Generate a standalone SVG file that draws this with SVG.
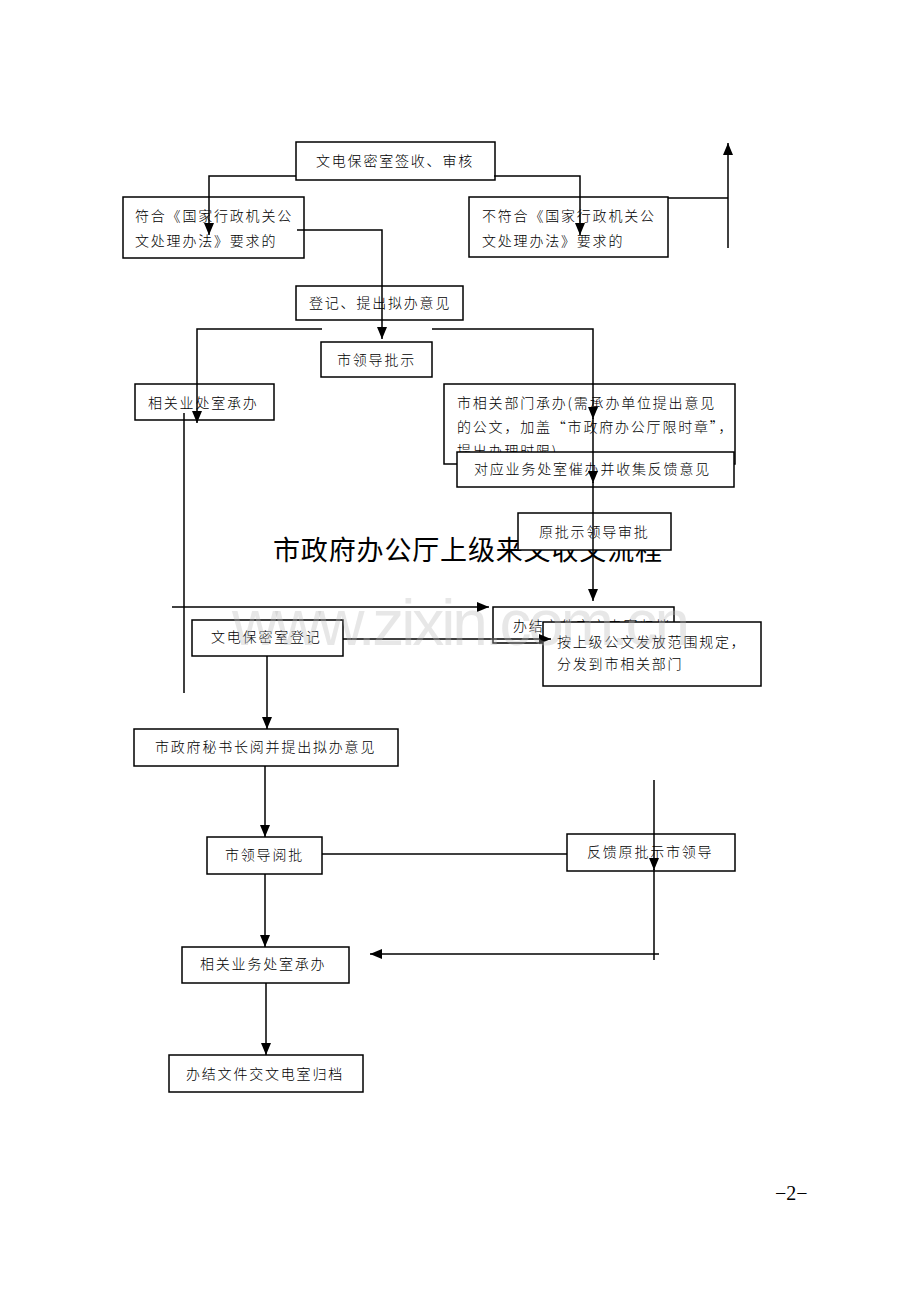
<svg xmlns="http://www.w3.org/2000/svg" width="920" height="1302" viewBox="0 0 920 1302">
<defs>
<style>
.b{fill:#fff;stroke:#000;stroke-width:1.5}
.t{font-family:"Noto Sans CJK SC","Noto Sans",sans-serif;font-size:14px;letter-spacing:1.8px;fill:#000;font-weight:300}
.c{fill:none;stroke:#000;stroke-width:1.5}
</style>
<marker id="a" markerUnits="userSpaceOnUse" markerWidth="12" markerHeight="12" viewBox="0 0 12 12" refX="12" refY="6" orient="auto"><path d="M0,1 L12,6 L0,11 z" fill="#000"/></marker>
</defs>
<rect width="920" height="1302" fill="#fff"/>
<text x="273" y="560" font-family="'Noto Sans CJK SC','Noto Sans',sans-serif" font-size="27" textLength="389" fill="#000">市政府办公厅上级来文收文流程</text>
<g id="n1"><rect class="b" x="296" y="142" width="199" height="38"/><text class="t" x="316" y="166">文电保密室签收、审核</text></g>
<g id="n2"><rect class="b" x="123" y="197" width="181" height="61"/><text class="t" x="135" y="221">符合《国家行政机关公</text><text class="t" x="135" y="246">文处理办法》要求的</text></g>
<g id="n3"><rect class="b" x="469" y="197" width="199" height="60"/><text class="t" x="482" y="221">不符合《国家行政机关公</text><text class="t" x="482" y="246">文处理办法》要求的</text></g>
<g id="n4"><rect class="b" x="296" y="286" width="167" height="34"/><text class="t" x="309" y="308">登记、提出拟办意见</text></g>
<g id="n5"><rect class="b" x="321" y="342" width="111" height="35"/><text class="t" x="337" y="365">市领导批示</text></g>
<g id="n6"><rect class="b" x="135" y="384" width="139" height="36"/><text class="t" x="148" y="408">相关业处室承办</text></g>
<g id="n7"><rect class="b" x="444" y="384" width="291" height="80"/><text class="t" x="457" y="408">市相关部门承办(需承办单位提出意见</text><text class="t" x="457" y="432">的公文，加盖“市政府办公厅限时章”，</text><text class="t" x="457" y="456">提出办理时限)</text></g>
<g id="n8"><rect class="b" x="457" y="452" width="277" height="35"/><text class="t" x="474" y="474">对应业务处室催办并收集反馈意见</text></g>
<g id="n9"><rect class="b" x="518" y="513" width="153" height="37"/><text class="t" x="539" y="537">原批示领导审批</text></g>
<g id="n11"><rect class="b" x="493" y="607" width="181" height="36"/><text class="t" x="513" y="631">办结文件交文电室归档</text></g>
<g id="n12"><rect class="b" x="543" y="622" width="218" height="64"/><text class="t" x="557" y="647">按上级公文发放范围规定，</text><text class="t" x="557" y="669">分发到市相关部门</text></g>
<g id="n13"><rect class="b" x="192" y="620" width="151" height="36"/><text class="t" x="211" y="642">文电保密室登记</text></g>
<g id="n14"><rect class="b" x="134" y="729" width="264" height="37"/><text class="t" x="155" y="752">市政府秘书长阅并提出拟办意见</text></g>
<g id="n15"><rect class="b" x="207" y="837" width="115" height="37"/><text class="t" x="225" y="860">市领导阅批</text></g>
<g id="n16"><rect class="b" x="567" y="834" width="168" height="37"/><text class="t" x="587" y="857">反馈原批示市领导</text></g>
<g id="n17"><rect class="b" x="182" y="947" width="167" height="36"/><text class="t" x="200" y="969">相关业务处室承办</text></g>
<g id="n18"><rect class="b" x="169" y="1055" width="194" height="37"/><text class="t" x="186" y="1079">办结文件交文电室归档</text></g>
<g id="connectors">
<path class="c" d="M296,176 H209 V235" marker-end="url(#a)"/>
<path class="c" d="M494,176 H580 V235" marker-end="url(#a)"/>
<path class="c" d="M668,198 H728"/>
<path class="c" d="M728,248 V143" marker-end="url(#a)"/>
<path class="c" d="M297,230 H382 V339" marker-end="url(#a)"/>
<path class="c" d="M322,329 H197 V423" marker-end="url(#a)"/>
<path class="c" d="M432,329 H593 V419" marker-end="url(#a)"/>
<path class="c" d="M593,418 V483" marker-end="url(#a)"/>
<path class="c" d="M593,482 V601" marker-end="url(#a)"/>
<path class="c" d="M184,413 V693"/>
<path class="c" d="M172,607 H489" marker-end="url(#a)"/>
<path class="c" d="M343,639 H551" marker-end="url(#a)"/>
<path class="c" d="M267,656 V729" marker-end="url(#a)"/>
<path class="c" d="M265,766 V837" marker-end="url(#a)"/>
<path class="c" d="M322,854 H567"/>
<path class="c" d="M654,780 V870" marker-end="url(#a)"/>
<path class="c" d="M654,869 V960"/>
<path class="c" d="M659,954 H370" marker-end="url(#a)"/>
<path class="c" d="M265,874 V947" marker-end="url(#a)"/>
<path class="c" d="M266,983 V1055" marker-end="url(#a)"/>
</g>
<text x="232" y="645" font-family="'Liberation Sans',Arial,sans-serif" font-size="64" textLength="458" fill="#bbbbbb" fill-opacity="0.35">www.zixin.com.cn</text>
<text x="775" y="1200" font-family="'Liberation Serif','Times New Roman',serif" font-size="20" fill="#000">−2−</text>
</svg>
